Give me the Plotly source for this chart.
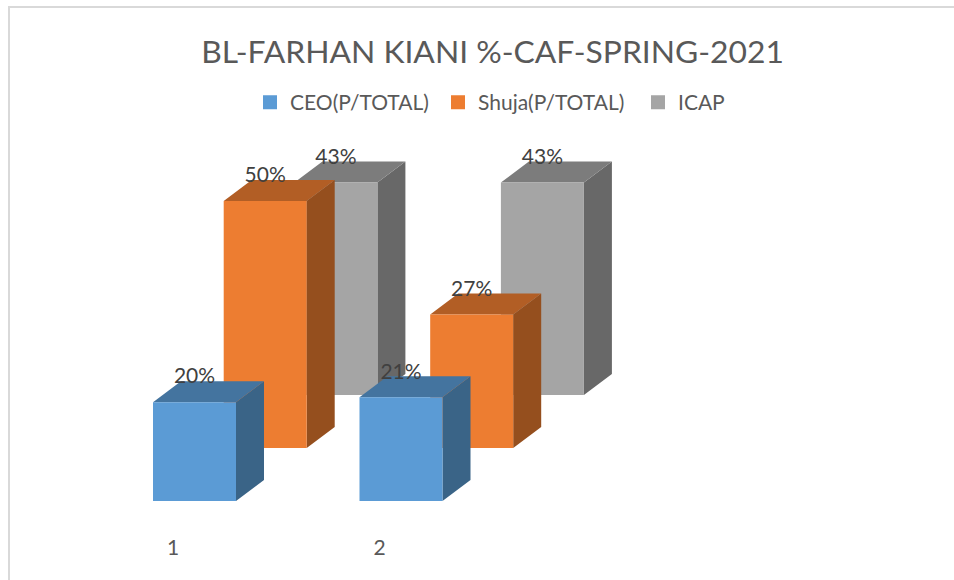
import plotly.graph_objects as go

categories = [1, 2]
series_names = ["CEO(P/TOTAL)", "Shuja(P/TOTAL)", "ICAP"]
ceo_values = [20, 21]
shuja_values = [50, 27]
icap_values = [43, 43]
front_colors = ["#5B9BD5", "#ED7D31", "#A5A5A5"]
top_colors = ["#44749F", "#B25E25", "#7C7C7C"]
side_colors = ["#3A6487", "#954F1E", "#686868"]
legend_widths = [143, 155, 60]

W, H = 954, 580
MB = 47
PX_CAT = 206.5      # px per category
PX_VAL = 4.94       # px per percent
X0_PX = 173 - PX_CAT   # pixel of x = 0
Y0_PX = 501         # pixel of y = 0

bar_w = 83 / PX_CAT
bar_off = -20 / PX_CAT
dep_x = 28 / PX_CAT
dep_y = 21 / PX_VAL
step_x = 70.7 / PX_CAT
step_y = 53 / PX_VAL
font = "Lato, Carlito, sans-serif"

all_values = [ceo_values, shuja_values, icap_values]
fig = go.Figure()


def polys(points_list):
    xs, ys = [], []
    for pts in points_list:
        for p in pts + [pts[0]]:
            xs.append(p[0])
            ys.append(p[1])
        xs.append(None)
        ys.append(None)
    return xs, ys


label_x, label_y, label_t = [], [], []
for s in [2, 1, 0]:
    front, side, top = [], [], []
    for c, v in zip(categories, all_values[s]):
        l = c + bar_off + s * step_x
        r = l + bar_w
        b = s * step_y
        t = b + v
        front.append([(l, b), (r, b), (r, t), (l, t)])
        side.append([(r, b), (r + dep_x, b + dep_y), (r + dep_x, t + dep_y), (r, t)])
        top.append([(l, t), (r, t), (r + dep_x, t + dep_y), (l + dep_x, t + dep_y)])
        label_x.append((l + r) / 2)
        label_y.append(t + 24 / PX_VAL)
        label_t.append(f"{v}%")
    for faces, col in ((side, side_colors[s]), (top, top_colors[s]), (front, front_colors[s])):
        xs, ys = polys(faces)
        fig.add_trace(go.Scatter(x=xs, y=ys, mode="lines", fill="toself", fillcolor=col,
                                 line=dict(width=0, color=col), hoverinfo="skip",
                                 showlegend=False, legendgroup=series_names[s]))

for s in range(3):
    fig.add_trace(go.Bar(x=[None], y=[None], name=series_names[s], legendwidth=legend_widths[s],
                         marker=dict(color=front_colors[s], line=dict(color=front_colors[s], width=2)),
                         legendgroup=series_names[s]))

fig.add_trace(go.Scatter(x=label_x, y=label_y, text=label_t, mode="text",
                         textposition="middle center", showlegend=False,
                         textfont=dict(family=font, size=21, color="#404040"), hoverinfo="skip"))

plot_h = H - MB
fig.update_layout(
    width=W, height=H, autosize=False,
    margin=dict(l=0, r=0, t=0, b=MB),
    paper_bgcolor="white", plot_bgcolor="white",
    title=dict(text="BL-FARHAN KIANI %-CAF-SPRING-2021", x=492.5 / W, xanchor="center",
               xref="paper", y=1 - 52 / H, yanchor="middle",
               font=dict(family=font, size=31.8, color="#595959")),
    legend=dict(orientation="h", x=250 / W, xanchor="left", y=1 - 82 / plot_h, yanchor="top",
                font=dict(family=font, size=21, color="#595959"),
                entrywidthmode="pixels", itemwidth=30,
                bgcolor="rgba(0,0,0,0)"),
    xaxis=dict(range=[-X0_PX / PX_CAT, (W - X0_PX) / PX_CAT], tickvals=categories,
               ticktext=[str(c) for c in categories], showgrid=False, zeroline=False,
               showline=False, ticks="", tickfont=dict(family=font, size=21, color="#595959")),
    yaxis=dict(range=[(Y0_PX - plot_h) / PX_VAL, Y0_PX / PX_VAL], visible=False),
    shapes=[dict(type="rect", xref="paper", yref="paper", x0=9 / W, x1=1.05,
                 y0=-0.2, y1=1 - 7 / plot_h, line=dict(color="#D9D9D9", width=2), layer="below")],
)
fig.write_html("out.html", config={"displayModeBar": False},
               post_script="document.body.style.margin='0';document.documentElement.style.overflow='hidden';")
